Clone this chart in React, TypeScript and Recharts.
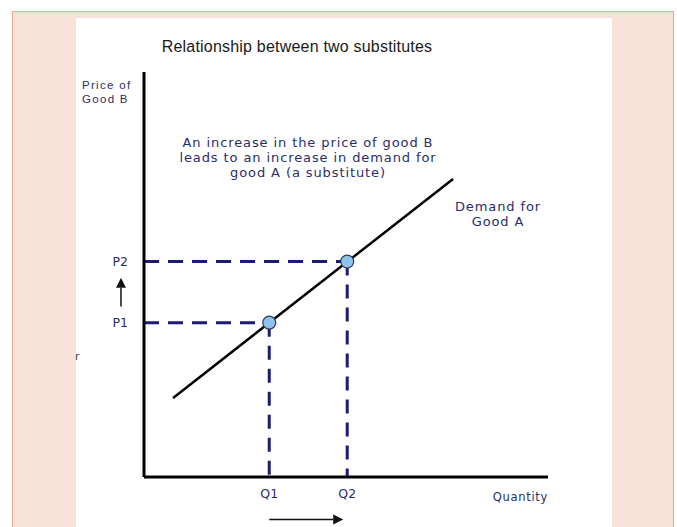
import React from 'react';
import { ComposedChart, Scatter, XAxis, YAxis, ReferenceLine } from 'recharts';

// demand curve for good A (quantity vs price of good B)
const demandQuantity = [7.2, 76.5];
const demandPrice = [19.5, 73.6];

// the two equilibrium points
const quantityTicks = [31, 50.3];
const quantityLabels = ['Q1', 'Q2'];
const priceTicks = [38.1, 53.2];
const priceLabels = ['P1', 'P2'];

const demandData = demandQuantity.map((q, i) => ({ q, p: demandPrice[i] }));
const pointData = quantityTicks.map((q, i) => ({ q, p: priceTicks[i] }));

const NAVY = '#1c1c78';
const TEXT = '#2b2d6a';
const SANS = '"DejaVu Sans", Verdana, sans-serif';
const ARIAL = '"Liberation Sans", Arial, sans-serif';

const Arrow = (props: any) => {
  const { x1, y1, x2, y2 } = props;
  const dx = x2 - x1;
  const dy = y2 - y1;
  const len = Math.sqrt(dx * dx + dy * dy) || 1;
  const ux = dx / len;
  const uy = dy / len;
  const head = 10;
  const half = 5;
  const bx = x2 - ux * head;
  const by = y2 - uy * head;
  const pts = `${x2},${y2} ${bx - uy * half},${by + ux * half} ${bx + uy * half},${by - ux * half}`;
  return (
    <g>
      <line x1={x1} y1={y1} x2={bx} y2={by} stroke="#111" strokeWidth={1.5} />
      <polygon points={pts} fill="#111" />
    </g>
  );
};

const Dot = (props: any) => {
  const { cx, cy } = props;
  return <circle cx={cx} cy={cy} r={6.5} fill="#8fc3ec" stroke="#2a3a5a" strokeWidth={1.2} />;
};

export default function App() {
  return (
    <div style={{ position: 'absolute', left: 0, top: 0, width: 677, height: 527, background: '#fff', overflow: 'hidden' }}>
      <div
        style={{
          position: 'absolute',
          left: 12,
          top: 11,
          width: 660,
          height: 530,
          background: '#f7e3da',
          borderLeft: '1.5px solid #e9a58e',
          borderTop: '1.5px solid #e9a58e',
          borderRight: '1.5px solid #e9a58e',
        }}
      />
      <div style={{ position: 'absolute', left: 76, top: 18, width: 536, height: 520, background: '#fff' }} />

      <div style={{ position: 'absolute', left: 0, top: 0 }}>
        <ComposedChart width={677} height={527} margin={{ top: 72, right: 129, bottom: 20, left: 114 }}>
          <XAxis
            type="number"
            dataKey="q"
            domain={[0, 100]}
            allowDataOverflow
            height={30}
            ticks={quantityTicks}
            interval={0}
            tickFormatter={(v: number) => quantityLabels[quantityTicks.indexOf(v)]}
            tick={{ fill: TEXT, fontSize: 12.5, fontFamily: SANS }}
            tickLine={false}
            tickSize={0}
            tickMargin={12}
            axisLine={{ stroke: '#000', strokeWidth: 3 }}
          />
          <YAxis
            type="number"
            dataKey="p"
            domain={[0, 100]}
            allowDataOverflow
            width={30}
            ticks={priceTicks}
            interval={0}
            tickFormatter={(v: number) => priceLabels[priceTicks.indexOf(v)]}
            tick={{ fill: TEXT, fontSize: 12.5, fontFamily: SANS }}
            tickLine={false}
            tickSize={0}
            tickMargin={16}
            axisLine={{ stroke: '#000', strokeWidth: 3 }}
          />
          {pointData.map((d, i) => (
            <ReferenceLine
              key={`h${i}`}
              segment={[{ x: 0, y: d.p }, { x: d.q, y: d.p }]}
              stroke={NAVY}
              strokeWidth={3}
              strokeDasharray="15 9"
              ifOverflow="visible"
            />
          ))}
          {pointData.map((d, i) => (
            <ReferenceLine
              key={`v${i}`}
              segment={[{ x: d.q, y: d.p }, { x: d.q, y: 0 }]}
              stroke={NAVY}
              strokeWidth={3}
              strokeDasharray="14 9"
              ifOverflow="visible"
            />
          ))}
          <ReferenceLine
            segment={[{ x: quantityTicks[0], y: -10.5 }, { x: quantityTicks[1] - 1, y: -10.5 }]}
            ifOverflow="visible"
            shape={Arrow}
          />
          <ReferenceLine
            segment={[{ x: -5.7, y: priceTicks[0] + 4 }, { x: -5.7, y: priceTicks[1] - 4 }]}
            ifOverflow="visible"
            shape={Arrow}
          />
          <Scatter
            data={demandData}
            line={{ stroke: '#000', strokeWidth: 2.5 }}
            shape={() => <g />}
            isAnimationActive={false}
          />
          <Scatter data={pointData} shape={Dot} isAnimationActive={false} />
        </ComposedChart>
      </div>

      <svg width={677} height={527} style={{ position: 'absolute', left: 0, top: 0, pointerEvents: 'none' }}>
        <text x={297} y={52} textAnchor="middle" fontFamily={ARIAL} fontSize={16} letterSpacing={0.2} fill="#1a1a1a">
          Relationship between two substitutes
        </text>
        <text fontFamily={ARIAL} fontSize={11.5} fill={TEXT} letterSpacing={1.3}>
          <tspan x={82} y={89}>Price of</tspan>
          <tspan x={82} y={103}>Good B</tspan>
        </text>
        <text textAnchor="middle" fontFamily={SANS} fontSize={13} letterSpacing={0.9} fill={TEXT}>
          <tspan x={308} y={147}>An increase in the price of good B</tspan>
          <tspan x={308} y={162}>leads to an increase in demand for</tspan>
          <tspan x={308} y={177}>good A (a substitute)</tspan>
        </text>
        <text textAnchor="middle" fontFamily={SANS} fontSize={13} letterSpacing={0.9} fill={TEXT}>
          <tspan x={498} y={211}>Demand for</tspan>
          <tspan x={498} y={226}>Good A</tspan>
        </text>
        <text x={548} y={501} textAnchor="end" fontFamily={SANS} fontSize={11.5} letterSpacing={0.7} fill={TEXT}>
          Quantity
        </text>
        <text x={75} y={360} fontFamily={SANS} fontSize={11} fill="#444">
          r
        </text>
      </svg>
    </div>
  );
}
